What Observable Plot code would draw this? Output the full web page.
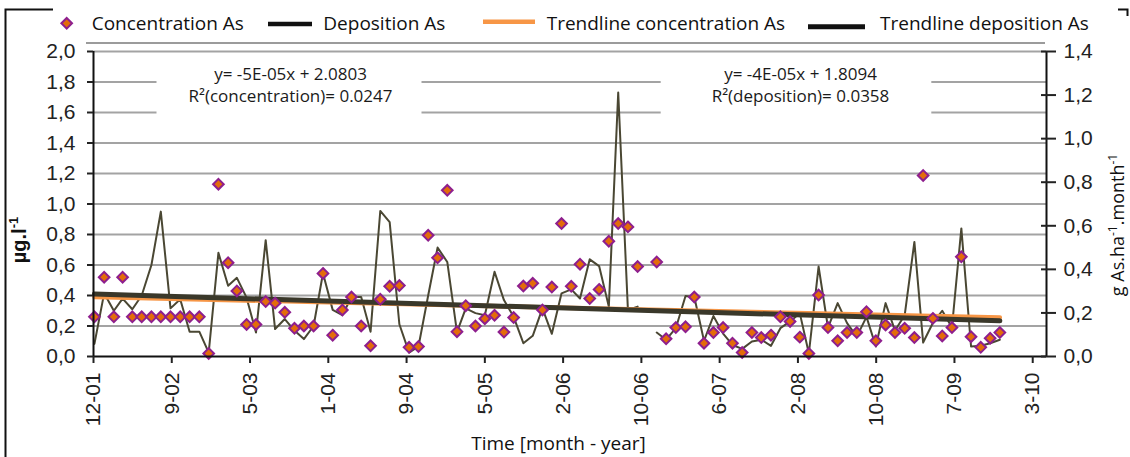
<!DOCTYPE html>
<html><head><meta charset="utf-8">
<script src="https://cdn.jsdelivr.net/npm/d3@7"></script>
<script src="https://cdn.jsdelivr.net/npm/@observablehq/plot@0.6"></script>
<style>
html,body{margin:0;padding:0;background:#fff;}
#chart{width:1130px;height:457px;overflow:hidden;}
</style></head>
<body><div id="chart"></div>
<script>
// Concentration As (µg/l), one sample per month; null = missing sample
const concentration = [
  0.26,0.52,0.26,0.52,0.26,0.26,0.26,0.26,0.26,0.26,0.26,0.26,
  0.02,1.13,0.615,0.43,0.21,0.21,0.36,0.35,0.29,0.185,0.20,0.20,
  0.545,0.14,0.305,0.39,0.20,0.07,0.375,0.46,0.465,0.06,0.065,0.795,
  0.647,1.09,0.163,0.333,0.20,0.248,0.27,0.16,0.255,0.462,0.48,0.305,
  0.455,0.872,0.46,0.605,0.38,0.44,0.756,0.872,0.85,0.59,null,0.62,
  0.116,0.19,0.195,0.39,0.087,0.157,0.19,0.087,0.026,0.157,0.124,0.14,
  0.26,0.23,0.127,0.02,0.403,0.19,0.103,0.157,0.157,0.294,0.103,0.207,
  0.157,0.185,0.124,1.187,0.25,0.135,0.19,0.654,0.13,0.06,0.12,0.157
];
// Deposition As (g As/ha/month), same months
const deposition = [
  0.058,0.29,0.21,0.266,0.217,0.28,0.42,0.665,0.221,0.263,0.114,0.114,
  0.018,0.476,0.325,0.361,0.27,0.11,0.534,0.126,0.172,0.119,0.08,0.14,
  0.382,0.214,0.19,0.273,0.273,0.114,0.668,0.617,0.148,0.018,0.046,0.28,
  0.5,0.434,0.112,0.221,0.199,0.189,0.389,0.259,0.182,0.061,0.095,0.221,
  0.104,0.29,0.308,0.266,0.446,0.415,0.229,1.212,0.214,0.229,null,0.11,
  0.077,0.13,0.278,0.273,0.072,0.186,0.105,0.053,0.035,0.069,0.077,0.049,
  0.13,0.161,0.199,0.014,0.413,0.133,0.245,0.153,0.091,0.182,0.046,0.245,
  0.119,0.189,0.526,0.064,0.154,0.21,0.133,0.588,0.046,0.049,0.061,0.077
];
const firstSample = "2001-12-28";
const axisStart = "2001-12-25";
const axisEnd = "2010-04-26";
const tickStepDays = 250;
const tickCount = 13;
const leftTicks = [0,0.2,0.4,0.6,0.8,1.0,1.2,1.4,1.6,1.8,2.0];
const rightTicks = [0,0.2,0.4,0.6,0.8,1.0,1.2,1.4];
const legendLabels = ["Concentration As","Deposition As","Trendline concentration As","Trendline deposition As"];
const annotationLeft = ["y= -5E-05x + 2.0803","R²(concentration)= 0.0247"];
const annotationRight = ["y= -4E-05x + 1.8094","R²(deposition)= 0.0358"];
const xTitle = "Time [month - year]";

const k = 2.0 / 1.4; // right axis -> left axis units
const t0 = new Date(firstSample);
const data = concentration.map((c, i) => ({date: d3.utcMonth.offset(t0, i), conc: c, dep: deposition[i]}));
const start = new Date(axisStart), end = new Date(axisEnd);
const tickDates = d3.range(tickCount).map(j => d3.utcDay.offset(start, j * tickStepDays));
const fmtTick = d => `${d.getUTCMonth() + 1}-${String(d.getUTCFullYear() % 100).padStart(2, "0")}`;
const comma = v => v.toFixed(1).replace(".", ",");
const concData = data.filter(d => d.conc != null);
const depData = data.filter(d => d.dep != null);

const C_FILL = "#E36C0A", C_STROKE = "#8E1F8E", C_DEP = "#4a4733", C_TC = "#F79646", C_TD = "#3a382a";
const R = 4.8;

const chart = Plot.plot({
  width: 1130, height: 457,
  marginLeft: 93, marginRight: 84, marginTop: 51, marginBottom: 101,
  style: {fontFamily: "'Liberation Sans', Arial, sans-serif", fontSize: "21px", color: "#222", background: "#fff", overflow: "visible"},
  x: {type: "utc", domain: [start, end], axis: null},
  y: {domain: [0, 2], axis: null},
  marks: [
    Plot.ruleY(leftTicks.filter(v => v > 0), {stroke: "#a3a3a3", strokeWidth: 2}),
    Plot.line(data, {x: "date", y: d => d.dep == null ? NaN : d.dep * k, stroke: C_DEP, strokeWidth: 2}),
    Plot.linearRegressionY(concData, {x: "date", y: "conc", stroke: C_TC, strokeWidth: 4.5, ci: 0}),
    Plot.linearRegressionY(depData, {x: "date", y: d => d.dep * k, stroke: C_TD, strokeWidth: 5, ci: 0}),
    Plot.dot(concData, {x: "date", y: "conc", symbol: "diamond2", r: R, fill: C_FILL, stroke: C_STROKE, strokeWidth: 2}),
    Plot.ruleY([0], {stroke: "#111", strokeWidth: 2}),
    Plot.ruleX([start, end], {stroke: "#111", strokeWidth: 2}),
    Plot.axisY(leftTicks, {anchor: "left", tickFormat: comma, tickSize: 6, tickPadding: 12, label: null, strokeWidth: 2}),
    Plot.axisY(rightTicks.map(v => v * k), {anchor: "right", tickFormat: d => comma(d / k), tickSize: 9, tickPadding: 8, label: null, strokeWidth: 2}),
    Plot.axisY(rightTicks.map(v => v * k), {anchor: "right", tickFormat: () => "", tickSize: 6, dx: -6, label: null, strokeWidth: 2}),
    Plot.axisX(tickDates, {tickFormat: fmtTick, tickRotate: -90, tickSize: 7, tickPadding: 9, label: null, strokeWidth: 2})
  ]
});
document.getElementById("chart").appendChild(chart);

const svg = d3.select(chart);
const OPEN = "'Open Sans', 'Noto Sans', sans-serif";

// annotation boxes (white) and text
function annotate(lines, cx, padL, padR) {
  const g = svg.append("g");
  const rect = g.append("rect").attr("fill", "#fff");
  const t = g.append("text").attr("font-family", OPEN).attr("font-size", 17).attr("fill", "#1a1a1a").attr("text-anchor", "middle");
  lines.forEach((s, i) => t.append("tspan").attr("x", cx).attr("y", 79.5 + i * 22).text(s));
  const b = t.node().getBBox();
  rect.attr("x", b.x - padL).attr("y", 58).attr("width", b.width + padL + padR).attr("height", 68);
}
annotate(annotationLeft, 290.5, 32, 29);
annotate(annotationRight, 800.5, 51, 42);

// separator line under legend
svg.append("line").attr("x1", 86).attr("x2", 1045).attr("y1", 43).attr("y2", 43).attr("stroke", "#7a7a7a").attr("stroke-width", 1.5);

// legend
const lg = svg.append("g").attr("font-family", OPEN).attr("font-size", 19).attr("fill", "#111").attr("text-anchor", "start");
lg.append("path").attr("d", d3.symbol(d3.symbolDiamond2, Math.PI * R * R)()).attr("transform", "translate(66.7,23.3)")
  .attr("fill", C_FILL).attr("stroke", C_STROKE).attr("stroke-width", 2);
lg.append("text").attr("x", 91.7).attr("y", 30).text(legendLabels[0]);
lg.append("line").attr("x1", 268).attr("x2", 312).attr("y1", 24).attr("y2", 24).attr("stroke", "#111").attr("stroke-width", 4.3);
lg.append("text").attr("x", 323.3).attr("y", 30).text(legendLabels[1]);
lg.append("line").attr("x1", 483).attr("x2", 535).attr("y1", 21.7).attr("y2", 21.7).attr("stroke", C_TC).attr("stroke-width", 4.5);
lg.append("text").attr("x", 546.7).attr("y", 30).text(legendLabels[2]);
lg.append("line").attr("x1", 808).attr("x2", 865).attr("y1", 26.7).attr("y2", 26.7).attr("stroke", "#111").attr("stroke-width", 5);
lg.append("text").attr("x", 880).attr("y", 30).text(legendLabels[3]);

// axis titles
const yl = svg.append("text").attr("transform", "translate(25.5,240) rotate(-90)").attr("text-anchor", "middle")
  .attr("font-family", "'Liberation Sans', Arial, sans-serif").attr("font-weight", "bold").attr("font-size", 20).attr("fill", "#111");
yl.append("tspan").text("µg.l");
yl.append("tspan").attr("dy", -8).attr("font-size", 13).text("-1");

const yr = svg.append("text").attr("transform", "translate(1124,225) rotate(-90)").attr("text-anchor", "middle")
  .attr("font-family", OPEN).attr("font-size", 18).attr("fill", "#111");
yr.append("tspan").text("g As.ha");
yr.append("tspan").attr("dy", -7).attr("font-size", 12).text("-1");
yr.append("tspan").attr("dy", 7).text(".month");
yr.append("tspan").attr("dy", -7).attr("font-size", 12).text("-1");

svg.append("text").attr("x", 558.5).attr("y", 450).attr("text-anchor", "middle")
  .attr("font-family", OPEN).attr("font-size", 19).attr("fill", "#111").text(xTitle);

// outer bracket borders
const bd = svg.append("g").attr("stroke", "#111").attr("stroke-width", 2).attr("fill", "none");
bd.append("path").attr("d", "M53,9.5H5.5V457");
bd.append("path").attr("d", "M1118,9.5H1127.5V16");
</script>
</body></html>
